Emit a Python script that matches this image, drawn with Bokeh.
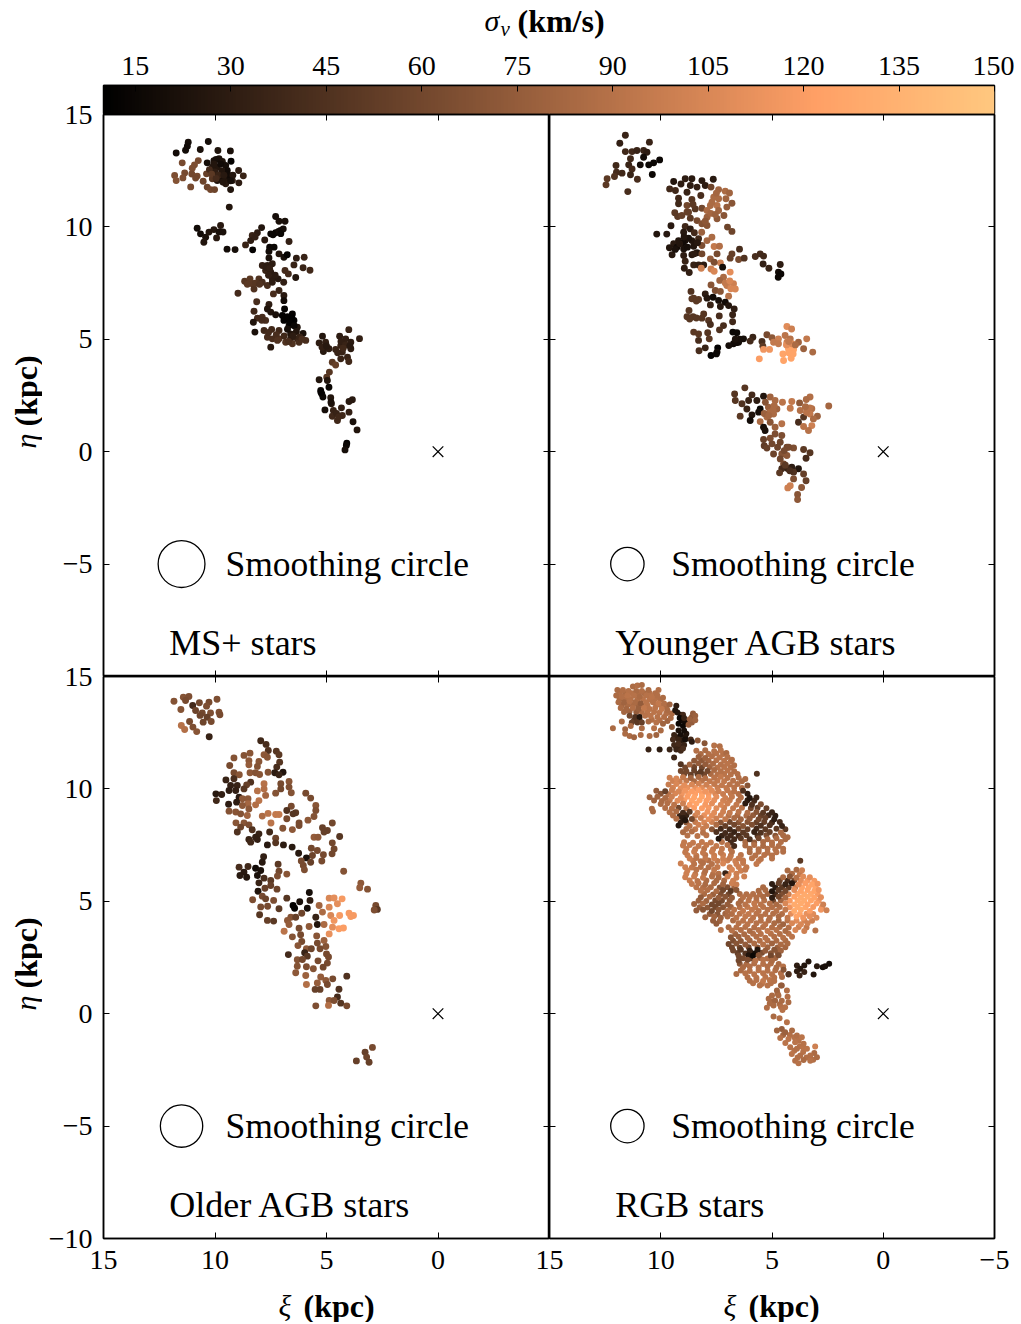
import math
import numpy as np
from bokeh.plotting import figure
from bokeh.layouts import column, row
from bokeh.models import LinearAxis, FixedTicker, LinearColorMapper, Range1d, ColumnDataSource
from bokeh.core.properties import value
from bokeh.embed import file_html
from bokeh.resources import INLINE

SIGMA_LOW, SIGMA_HIGH = 10, 150
cbar_ticks = [15, 30, 45, 60, 75, 90, 105, 120, 135, 150]
xi_ticks = [15, 10, 5, 0, -5]
eta_ticks = [15, 10, 5, 0, -5, -10]
panel_names = ["MS+ stars", "Younger AGB stars", "Older AGB stars", "RGB stars"]
smooth_radius = [1.05, 0.75, 0.95, 0.75]

# (xi kpc, eta kpc, sigma_v km/s)
ms_stars = [(11.2,13.77,20),(11.24,13.59,18),(11.32,13.41,18),(11.74,13.29,18),(10.3,13.8,20),(10.66,13.44,22),(9.87,13.4,24),(9.31,13.38,22),(11.47,12.85,62),(10.75,12.95,62),(10.92,12.76,65),(11.02,12.61,65),(10.35,12.85,20),(10.05,12.95,22),(9.82,13.03,22),(9.67,12.91,24),(9.28,12.92,12),(9.9,12.66,25),(9.52,12.73,20),(10.12,12.66,25),(9.45,12.51,18),(8.94,12.51,30),(8.73,12.27,35),(11.81,12.29,65),(11.74,12.06,68),(11.36,12.4,62),(11.44,12.18,65),(11.04,12.35,60),(10.8,12.26,62),(10.87,12.17,60),(10.38,12.36,55),(10.12,12.14,48),(10.53,12.03,58),(11.09,11.78,62),(10.35,11.77,58),(10.2,11.66,60),(10.02,11.66,58),(9.9,12.06,25),(9.67,12.21,22),(9.45,12.14,25),(9.22,12.06,30),(8.93,11.96,30),(9.52,11.92,28),(9.3,11.66,25),(9.36,10.88,25),
(7.28,10.46,20),(7.13,10.25,22),(6.86,10.25,22),(10.8,9.94,18),(10.65,9.69,18),(10.42,9.54,22),(10.5,9.32,25),(10.27,9.77,25),(10.05,9.88,25),(9.75,10.06,28),(9.82,9.77,22),(9.64,9.77,22),(9.93,9.51,28),(9.46,9.01,18),(9.1,8.99,20),(7.91,9.97,25),(8.1,9.74,30),(8.33,9.62,35),(8.4,9.39,30),(8.63,9.2,35),(7.77,9.42,28),(8.31,8.98,12),(7.5,9.69,15),(7.28,9.74,15),(7.06,9.84,18),(6.94,9.91,20),(6.68,9.35,32),(7.55,9.1,15),(7.35,9.1,15),(7.58,8.91,18),(7.13,8.8,25),(6.91,8.65,20),(6.76,8.76,12),(7.58,8.62,22),(6.35,8.61,30),(6.0,8.65,35),(6.46,8.31,35),(6.05,8.18,35),(5.74,8.07,38),(7.88,8.28,32),(7.65,8.28,30),(7.43,8.36,30),(7.73,8.06,35),(7.5,7.99,30),(6.86,8.06,40),(6.71,7.91,40),(6.38,7.75,25),(7.43,7.69,30),(7.17,7.69,28),(6.92,7.54,32),(8.67,7.58,48),(8.43,7.69,50),(8.33,7.47,50),(8.03,7.69,45),(7.88,7.54,42),(7.65,7.39,42),(7.43,7.54,30),(8.25,7.24,45),(8.97,7.05,40),(7.13,7.17,35),(7.38,7.02,42),(6.91,6.95,28),(6.91,6.72,18),(8.13,6.67,42),(7.58,6.55,30),(7.65,6.35,25),(8.25,6.25,38),(6.88,6.35,12),(7.5,6.21,25),(7.28,6.09,22),(6.98,6.06,12),(6.53,6.13,12),(7.88,5.98,42),(8.1,5.94,40),(7.73,5.84,42),(8.28,5.76,25),(6.91,5.84,12),(6.46,5.84,12),(6.68,5.61,18),(6.31,5.54,25),(8.21,5.32,22),(7.8,5.39,38),(7.46,5.44,38),(7.13,5.39,38),(6.05,5.26,22),(6.61,5.24,25),(7.65,5.09,42),(7.43,5.02,42),(7.13,5.02,45),(6.61,5.02,30),(6.31,5.02,35),(6.83,4.87,45),(6.53,4.8,45),(6.23,4.87,42),(5.93,4.95,42),(7.5,4.65,28),
(5.18,5.14,25),(5.33,4.84,30),(5.04,4.87,32),(5.14,4.46,28),(4.89,4.58,30),(4.41,5.14,30),(4.0,5.43,35),(3.52,5.03,32),(4.14,5.02,32),(3.91,4.87,30),(4.36,4.72,35),(4.59,4.55,35),(3.91,4.58,30),(4.29,4.43,35),(4.06,4.2,35),(4.36,4.13,35),(4.0,4.01,38),(4.74,3.98,50),(4.59,3.86,55),(4.87,3.54,48),(4.99,3.31,48),(5.33,3.2,25),(4.96,3.17,25),(4.89,2.87,15),(5.26,2.72,15),(5.21,2.57,15),(5.16,2.43,15),(4.81,2.4,25),(4.78,2.13,28),(3.84,2.31,28),(3.99,2.23,28),(5.07,1.86,20),(4.69,1.83,35),(4.33,1.95,32),(3.99,1.76,32),(4.74,1.58,38),(4.29,1.61,38),(4.51,1.39,38),(3.81,1.33,22),(3.63,0.97,25),(4.09,0.38,12),(4.11,0.28,15),(4.17,0.08,20),
(9.95,13.0,20),(9.75,12.8,18),(10.0,12.45,30),(9.7,12.5,25),(9.4,12.3,18),(9.2,12.3,25),(9.85,12.3,35),(9.6,12.3,28),(9.3,12.05,20),(9.65,12.0,25),(10.05,12.8,25),(10.25,12.55,40),(10.15,12.35,50),(9.95,12.15,40),(6.75,6.0,12),(6.55,5.95,10),(6.65,5.75,12),(6.45,5.6,15),(6.75,5.45,20),(6.35,5.35,25),(6.5,5.15,30),(6.9,5.15,38),(7.25,5.2,42),(6.2,5.1,35),(6.1,5.0,42),(7.2,4.95,45),(6.7,4.9,42),(7.6,5.3,40),(7.15,9.8,18),(7.4,9.65,15),(8.2,9.55,32),(7.05,9.7,15),(7.7,8.2,30),(7.55,8.15,32),(7.3,7.85,30),(7.6,7.85,32),(8.55,7.45,50),(8.2,7.5,48),(8.0,7.45,45),(7.9,5.85,40),(4.35,4.9,32),(4.15,4.75,35),(3.95,4.7,28),(4.25,4.6,38),(4.5,4.4,35),(5.2,4.65,32),(5.0,4.7,28),(5.25,2.65,12),(4.8,2.2,22),(4.55,1.7,35),(4.45,1.55,38)]

young_stars = [(11.59,14.08,35),(11.84,13.72,32),(10.51,13.77,35),(11.59,13.35,38),(11.29,13.35,38),(11.07,13.4,35),(10.77,13.4,35),(10.62,13.32,30),(11.36,13.03,38),(10.77,13.1,18),(12.01,12.73,38),(11.44,12.76,35),(10.92,12.76,18),(10.54,12.76,15),(10.32,12.85,15),(10.05,12.98,15),(11.29,12.58,40),(11.99,12.43,40),(11.74,12.39,38),(11.36,12.32,35),(10.38,12.33,15),(12.41,12.14,50),(12.08,12.24,45),(12.46,11.87,50),(11.05,12.12,42),(11.48,11.57,42),
(9.42,12.02,25),(8.9,12.14,30),(8.6,12.14,28),(8.15,12.06,28),(7.64,12.12,28),(9.09,11.91,30),(8.67,11.84,30),(8.37,11.77,32),(8.0,11.84,30),(7.74,11.77,58),(7.4,11.66,80),(7.1,11.59,85),(6.91,11.51,80),(9.6,11.69,38),(9.34,11.62,38),(8.82,11.54,35),(7.62,11.32,85),(7.4,11.25,85),(7.07,11.25,80),(9.2,11.28,38),(8.6,11.22,48),(6.8,11.05,70),(9.2,11.03,38),(8.82,10.95,60),(7.77,10.95,85),(7.47,10.95,90),(7.03,10.88,75),(8.45,10.8,48),(8.15,10.83,60),(7.92,10.73,85),(9.37,10.63,50),(8.82,10.66,58),(7.4,10.73,80),(9.24,10.46,50),(9.05,10.51,55),(8.67,10.39,50),(8.37,10.28,62),(7.92,10.43,78),(7.47,10.36,72),(7.16,10.51,70),(8.15,10.14,68),(7.92,10.06,70),(9.54,10.05,28),(8.9,10.02,38),(8.67,9.91,30),(7.0,9.99,58),(6.8,9.8,58),(8.16,9.76,78),(10.18,9.68,25),(9.73,9.68,28),(8.97,9.76,28),(8.49,9.74,40),(7.7,9.54,85),(7.92,9.39,82),(9.2,9.39,25),(8.9,9.39,22),(8.6,9.39,25),(8.3,9.47,38),(9.42,9.25,28),(8.15,9.17,65),(7.6,9.13,95),(7.36,9.14,88),(9.61,9.07,25),(9.27,9.1,18),(8.97,9.02,22),(8.52,9.14,25),(6.46,9.01,42),(9.49,8.76,28),(8.97,8.73,30),(8.6,8.76,28),(8.37,8.85,25),(8.15,8.8,60),(7.47,8.8,62),(6.8,8.8,55),(5.75,8.68,42),(5.53,8.8,40),(5.38,8.7,38),(7.77,8.58,75),(6.88,8.61,55),(6.5,8.55,62),(6.25,8.61,45),(8.9,8.47,35),(7.32,8.4,100),(7.6,8.43,65),(8.52,8.31,35),(8.3,8.31,32),(8.07,8.31,30),(5.4,8.35,32),(4.63,8.33,30),(5.14,8.16,35),(8.94,8.16,30),(8.18,8.16,100),(7.74,8.13,100),(7.6,8.03,105),(7.22,8.21,20),(6.88,7.99,110),(8.72,7.97,32),(4.71,7.99,18),(4.6,7.91,15),(4.72,7.76,15),(7.18,7.76,85),(6.73,7.47,100),(7.35,7.62,80),(7.74,7.42,70),(7.03,7.39,95),(6.65,7.24,105),(7.55,7.17,65),(7.32,7.13,70),(8.64,7.13,45),(8.0,7.02,30),(6.95,6.92,90),(8.52,6.83,50),(8.3,6.77,50),(7.92,6.83,25),(7.65,6.87,18),(7.4,6.73,20),(7.1,6.65,18),(7.77,6.53,35),(7.32,6.46,28),(6.95,6.5,25),(6.7,6.35,30),(8.73,6.28,48),(6.77,6.09,35),(8.82,6.0,48),(8.55,6.0,48),(8.07,6.13,48),(8.15,5.94,48),(7.37,6.04,42),(7.85,5.84,48),(7.77,5.66,42),(6.77,5.78,38),(7.18,5.61,42),(7.36,5.42,45),(8.52,5.32,50),(8.3,5.24,50),(7.89,5.29,48),(6.76,5.32,15),(6.58,5.29,15),(8.3,4.95,42),(7.82,5.02,50),(6.28,5.02,20),(5.86,5.09,35),(6.5,4.87,20),(6.73,4.8,18),(5.98,4.92,40),(5.45,4.9,42),(7.44,4.62,12),(6.94,4.72,20),(8.0,4.62,35),(8.28,4.49,42),(7.74,4.28,12),(7.47,4.43,18),(5.41,4.69,50),(4.33,5.57,108),(4.12,5.46,100),(5.23,5.2,62),(5.0,5.07,72),(4.41,5.17,92),(4.71,5.02,100),(4.18,5.02,90),(3.44,5.02,95),(3.81,4.87,80),(4.93,4.87,95),(4.71,4.8,95),(4.33,4.87,100),(3.58,4.58,78),(4.26,4.58,125),(4.03,4.55,125),(5.38,4.55,115),(5.11,4.55,115),(3.17,4.43,85),(4.51,4.35,125),(5.57,4.13,120),(4.14,4.16,125),(4.48,4.06,125),
(6.22,2.84,48),(6.68,2.57,48),(6.65,2.28,48),(5.9,2.53,40),(5.38,2.47,25),(5.08,2.43,80),(3.29,2.43,88),(3.46,2.32,85),(6.05,2.28,35),(5.68,2.28,30),(4.86,2.28,85),(4.53,2.2,92),(4.11,2.23,95),(3.76,2.17,72),(2.45,2.03,82),(6.35,2.13,45),(6.13,1.9,35),(5.53,1.9,15),(5.16,1.98,78),(4.78,1.9,80),(4.18,1.93,95),(3.73,1.83,88),(3.21,1.91,88),(5.6,1.76,20),(4.93,1.68,85),(3.29,1.68,95),(6.43,1.58,50),(5.9,1.64,25),(5.23,1.54,85),(3.58,1.54,48),(2.96,1.58,78),(3.14,1.46,85),(5.98,1.39,18),(5.53,1.34,85),(5.08,1.31,70),(4.56,1.24,90),(3.81,1.31,42),(3.58,1.12,92),(3.21,1.16,100),(3.36,0.94,90),(5.38,1.09,20),(5.31,0.94,22),(4.86,1.09,78),(4.86,0.79,65),(4.56,0.72,65),(5.08,0.6,65),(5.38,0.54,55),(4.63,0.42,58),(5.0,0.35,60),(5.35,0.27,52),(4.33,0.2,60),(4.03,0.17,65),(5.23,0.16,55),(3.58,0.1,50),(3.29,-0.05,48),(4.93,-0.1,58),(4.56,-0.1,68),(4.33,-0.17,72),(3.47,-0.29,40),(4.63,-0.32,60),(4.48,-0.54,62),(4.56,-0.76,40),(4.11,-0.69,30),(3.81,-0.76,25),(4.66,-0.94,50),(4.03,-0.91,45),(3.58,-0.99,55),(4.03,-1.21,65),(3.47,-1.29,55),(4.18,-1.51,100),(4.29,-1.61,100),(3.67,-1.59,72),(3.85,-1.9,70),(3.85,-2.13,72),
(8.75,9.5,22),(9.0,9.3,18),(8.8,9.1,20),(8.35,9.3,28),(8.5,8.8,30),(9.15,9.25,25),(9.35,9.0,22),(8.95,9.55,25),(7.7,11.1,85),(7.5,11.5,82),(7.75,10.6,82),(7.55,10.55,78),(8.0,10.25,72),(8.75,10.65,55),(8.55,11.0,50),(8.2,11.4,42),(7.0,7.5,100),(6.85,7.25,105),(7.1,7.5,95),(6.9,7.6,105),(5.1,1.75,85),(5.35,1.7,78),(5.3,2.2,70),(4.9,2.05,85),(4.95,1.85,85),(5.15,1.6,82),(3.45,1.75,92),(3.3,1.95,92),(3.5,2.0,85),(4.3,-0.75,35),(4.2,-0.85,42),(4.4,-0.6,50),(4.25,0.2,62),(4.45,0.05,62),(4.75,0.2,58),(4.35,4.75,110),(4.1,4.8,105),(4.25,4.9,95),(3.95,4.75,85),(4.25,4.4,125),(4.05,4.35,125),(8.4,5.95,48),(8.7,5.9,48),(8.6,6.8,50),(8.4,6.7,50),(6.6,4.85,18),(6.45,5.0,20),(6.65,5.0,22),(7.5,4.35,15)]

old_stars = [(11.84,13.9,68),(11.42,14.08,68),(11.17,14.11,65),(11.32,13.93,62),(9.91,13.99,65),(10.7,13.83,60),(11.0,13.71,40),(10.27,13.86,62),(10.38,13.68,65),(11.53,13.53,68),(10.87,13.49,58),(10.57,13.38,60),(10.2,13.38,65),(9.82,13.41,65),(10.67,13.27,58),(9.78,13.3,62),(10.35,13.19,55),(10.17,13.0,62),(10.53,12.97,58),(11.14,13.0,62),(11.51,12.82,90),(11.36,12.64,88),(10.99,12.75,65),(10.82,12.55,70),(10.26,12.32,35),
(7.95,12.14,38),(7.71,11.98,42),(7.61,11.71,45),(7.25,11.68,48),(7.13,11.52,50),(9.15,11.38,68),(8.7,11.49,68),(8.43,11.59,70),(7.8,11.52,72),(7.65,11.41,70),(8.48,11.26,72),(8.03,11.22,70),(8.48,11.07,75),(7.1,11.19,48),(9.34,11.04,62),(8.1,11.0,68),(7.23,10.97,42),(8.43,10.72,72),(8.18,10.72,68),(8.0,10.64,70),(9.15,10.72,62),(8.91,10.63,70),(7.62,10.74,68),(7.32,10.72,30),(6.95,10.74,25),(7.13,10.63,35),(9.51,10.4,35),(9.15,10.45,42),(8.4,10.3,45),(8.58,10.18,55),(6.68,10.33,70),(7.05,10.23,62),(7.8,10.23,90),(7.8,10.0,88),(9.3,10.15,32),(9.0,10.15,35),(8.7,10.0,48),(9.37,9.93,30),(9.07,9.93,32),(6.68,10.08,65),(7.05,10.0,60),(8.1,9.91,90),(6.58,9.83,68),(7.28,9.81,68),(7.73,9.71,82),(5.93,9.81,62),(9.96,9.78,28),(9.7,9.75,32),(8.92,9.63,28),(5.71,9.59,62),(9.94,9.48,38),(8.77,9.56,72),(8.52,9.56,72),(8.03,9.48,92),(9.03,9.41,30),(9.39,9.32,30),(8.52,9.34,82),(8.18,9.29,88),(8.77,9.26,72),(6.58,9.23,62),(5.48,9.26,70),(8.48,9.11,72),(9.37,9.01,68),(9.07,8.97,70),(6.78,9.04,45),(6.38,8.94,50),(6.5,8.89,48),(5.48,9.04,65),(8.85,8.89,68),(7.88,8.79,85),(7.62,8.91,92),(7.28,8.86,95),(7.13,8.86,95),(8.55,8.82,80),(5.56,8.77,68),(6.78,8.67,62),(5.83,8.61,72),(9.06,8.49,70),(8.7,8.49,70),(8.48,8.4,65),(7.49,8.48,92),(6.23,8.49,62),(4.74,8.48,60),(8.85,8.3,58),(6.23,8.37,62),(8.33,8.18,45),(5.18,8.27,55),(6.96,8.25,68),(6.53,8.19,72),(4.96,8.15,55),(9.0,8.08,45),(8.03,8.0,35),(7.55,8.08,38),(5.11,8.08,55),(8.18,7.85,32),(8.48,7.75,35),(7.28,7.81,58),(5.56,7.85,75),(5.38,7.85,72),(4.41,7.88,48),(8.4,7.63,38),(7.28,7.6,48),(8.1,7.75,32),(7.65,7.51,28),(6.93,7.51,30),(6.54,7.41,28),(4.74,7.6,60),(5.68,7.36,60),(4.66,7.33,60),(5.41,7.26,62),(4.75,7.11,60),(6.25,7.14,28),(5.14,7.07,62),(5.63,7.04,58),(7.82,6.98,32),(5.9,6.93,22),(6.13,6.79,62),(5.71,6.74,55),(5.21,6.79,62),(7.88,6.74,28),(7.17,6.65,50),(6.04,6.59,62),(8.92,6.52,42),(8.52,6.55,38),(8.18,6.47,18),(7.95,6.37,22),(5.99,6.4,65),(8.7,6.3,28),(7.13,6.34,60),(4.23,6.34,68),(8.88,6.15,28),(8.58,6.07,25),(8.1,6.15,22),(6.78,6.21,70),(7.2,6.12,65),(7.8,6.03,42),(7.5,5.93,50),(8.03,5.82,35),(3.46,5.81,72),(3.51,5.6,75),(3.16,5.54,68),(7.5,5.7,55),(7.76,5.58,55),(7.22,5.54,58),(8.07,5.45,25),(5.77,5.39,20),(7.88,5.23,62),(8.31,5.07,65),(7.73,5.11,58),(7.37,5.04,65),(6.78,5.14,48),(6.2,4.98,22),(5.74,5.04,30),(4.88,5.14,105),(4.66,5.15,110),(4.3,5.11,118),(4.51,4.89,110),(2.79,4.81,62),(2.72,4.64,50),(2.86,4.61,65),(6.5,4.81,12),(6.43,4.69,12),(7.95,4.75,62),(7.64,4.78,62),(7.13,4.67,50),(5.86,4.69,20),(5.33,4.81,80),(4.88,4.74,105),(3.99,4.47,118),(3.79,4.37,118),(3.91,4.32,118),(6.11,4.47,58),(5.18,4.52,85),(4.81,4.37,105),(4.41,4.37,118),(8.0,4.4,48),(6.6,4.29,68),(6.38,4.29,55),(5.48,4.29,35),(7.65,4.15,55),(7.37,4.12,50),(6.75,4.15,72),(4.66,4.15,115),(5.41,3.97,25),(5.11,3.97,85),(6.68,3.97,75),(5.78,3.88,72),(4.73,3.85,110),(4.44,3.78,120),(4.24,3.81,120),(6.9,3.67,92),(6.23,3.8,62),(4.88,3.55,112),(6.16,3.51,62),(6.53,3.42,68),(5.44,3.46,70),(5.11,3.26,78),(6.11,3.21,62),(6.28,3.03,70),(5.41,3.14,62),(5.03,2.99,68),(5.29,2.89,62),(5.9,2.89,72),(5.68,2.89,58),(5.98,2.71,35),(6.71,2.63,40),(5.0,2.66,62),(5.86,2.56,48),(4.91,2.52,62),(6.31,2.4,68),(6.08,2.41,60),(5.38,2.35,62),(4.96,2.25,62),(6.31,2.11,68),(5.9,2.09,65),(5.59,2.0,68),(5.15,2.07,60),(6.38,1.82,72),(5.93,1.7,78),(4.09,1.67,45),(5.26,1.63,75),(5.03,1.48,72),(4.72,1.55,62),(5.41,1.37,75),(5.9,1.3,88),(4.96,1.3,62),(5.51,1.08,55),(5.29,1.08,55),(4.44,1.09,45),(4.51,0.74,40),(4.88,0.59,72),(4.66,0.59,65),(4.36,0.47,48),(5.48,0.35,65),(4.91,0.37,88),(4.09,0.35,62),(2.94,-1.5,62),(3.27,-1.71,55),(3.2,-1.93,58),(3.66,-2.1,55),(3.09,-2.16,55)]

rgb_fill = [(11.85,14.25,88),(11.6,14.25,85),(11.3,14.25,90),(11.0,14.22,88),(10.75,14.25,85),(10.5,14.25,90),(10.25,14.25,88),(11.85,14.0,85),(11.6,14.0,88),(11.35,14.0,90),(11.05,13.98,88),(10.8,14.0,92),(10.5,13.98,92),(10.25,14.0,90),(10.0,13.98,88),(11.75,13.72,82),(11.5,13.72,85),(11.25,13.72,85),(11.0,13.7,80),(10.85,13.72,88),(10.6,13.72,92),(10.2,13.72,92),(9.95,13.7,90),(9.75,13.65,85),(11.65,13.42,82),(11.4,13.45,80),(11.1,13.42,75),(10.85,13.42,88),(10.6,13.42,92),(10.3,13.42,92),(10.05,13.4,92),(9.75,13.35,88),(9.5,13.35,85),(9.35,13.5,25),(9.1,13.3,22),(9.05,13.05,18),(8.6,13.2,72),(11.2,13.05,50),(10.95,13.05,40),(10.4,13.08,88),(10.05,13.05,88),(9.7,13.02,80),(8.9,12.98,18),(8.6,12.95,75),(9.2,12.6,22),(8.85,12.45,25),(9.25,12.3,30),(9.05,12.15,28),(9.3,11.85,40),(9.1,11.9,35),
(8.2,11.55,85),(7.85,11.55,88),(7.5,11.58,90),(7.2,11.55,90),(8.5,11.25,72),(8.15,11.27,72),(7.85,11.25,82),(7.5,11.27,90),(7.15,11.25,92),(6.85,11.22,90),(8.9,10.95,60),(8.5,10.97,60),(8.15,10.95,60),(7.8,10.97,80),(7.45,10.95,90),(7.15,10.97,92),(6.85,10.95,90),(8.95,10.65,60),(8.65,10.63,55),(8.35,10.66,50),(8.05,10.64,60),(7.75,10.66,85),(7.45,10.64,90),(7.15,10.66,92),(6.85,10.64,90),(6.55,10.66,88),
(9.45,10.35,100),(9.15,10.33,100),(8.85,10.36,95),(8.5,10.34,85),(8.15,10.36,92),(7.8,10.34,95),(7.45,10.36,95),(7.15,10.34,95),(6.75,10.36,90),(6.35,10.34,85),(9.45,10.05,102),(9.1,10.03,110),(8.8,10.06,112),(8.45,10.04,112),(8.15,10.06,108),(7.8,10.04,108),(7.45,10.06,98),(7.05,10.04,95),(6.7,10.06,92),(6.35,10.04,88),(10.0,9.78,70),(9.65,9.76,90),(9.35,9.79,105),(9.05,9.77,115),(8.75,9.79,122),(8.45,9.77,122),(8.15,9.79,120),(7.85,9.77,118),(7.55,9.79,105),(7.2,9.77,98),(6.85,9.79,95),(6.5,9.77,88),(6.1,9.78,30),(10.3,9.48,80),(9.95,9.46,85),(9.6,9.49,95),(9.25,9.47,108),(8.95,9.49,118),(8.6,9.47,125),(8.25,9.49,125),(7.95,9.47,120),(7.6,9.49,112),(7.2,9.47,102),(6.9,9.49,98),(6.5,9.47,90),(6.1,9.49,30),(5.8,9.47,40),
(9.8,9.15,88),(9.5,9.13,90),(9.2,9.16,60),(8.85,9.14,90),(8.5,9.16,120),(8.15,9.14,120),(7.85,9.16,118),(7.5,9.14,108),(7.15,9.16,100),(6.75,9.14,95),(6.35,9.16,90),(5.95,9.14,60),(5.65,9.16,55),(5.25,9.14,55),(9.45,8.82,88),(9.15,8.8,35),(8.85,8.83,35),(8.45,8.81,100),(8.05,8.83,112),(7.7,8.81,108),(7.3,8.83,100),(6.95,8.81,90),(6.55,8.83,85),(6.15,8.81,85),(5.85,8.83,75),(5.5,8.81,55),(5.15,8.83,40),(4.85,8.81,30),(9.1,8.52,30),(8.85,8.5,70),(8.45,8.53,95),(8.05,8.51,105),(7.7,8.53,100),(7.3,8.51,70),(6.9,8.53,60),(6.5,8.51,70),(6.1,8.53,70),(5.7,8.51,55),(5.35,8.53,55),(5.0,8.51,40),(4.65,8.53,40),(8.85,8.22,88),(8.45,8.2,95),(8.1,8.23,98),(7.7,8.21,70),(7.3,8.23,40),(6.9,8.21,40),(6.5,8.23,60),(6.1,8.21,55),(5.7,8.23,40),(5.3,8.21,50),(4.8,8.23,50),(4.4,8.21,50),(8.8,7.93,90),(8.35,7.91,92),(7.95,7.94,92),(7.25,7.92,35),(6.85,7.94,40),(6.5,7.92,40),(6.15,7.94,50),(5.65,7.92,45),(5.25,7.94,65),(4.85,7.92,70),(4.5,7.94,85),
(8.95,7.63,95),(8.55,7.61,95),(8.15,7.64,95),(7.75,7.62,95),(7.25,7.64,90),(6.85,7.62,40),(6.2,7.64,85),(5.8,7.62,75),(5.4,7.64,85),(5.0,7.62,88),(4.6,7.64,88),(8.85,7.33,95),(8.45,7.31,95),(8.05,7.34,92),(7.65,7.32,95),(7.25,7.34,95),(6.85,7.32,90),(6.0,7.34,85),(5.6,7.32,88),(5.2,7.34,88),(4.85,7.32,90),(4.5,7.34,88),(8.8,7.05,98),(8.4,7.03,95),(8.0,7.06,92),(7.6,7.04,98),(7.2,7.06,100),(6.85,7.04,95),(6.4,7.06,92),(5.75,7.04,90),(5.35,7.06,92),(5.0,7.04,90),(8.55,6.8,95),(8.2,6.78,90),(7.85,6.81,88),(7.45,6.79,95),(7.0,6.81,100),(6.65,6.79,100),(6.3,6.81,95),(5.6,6.79,95),(8.9,6.52,100),(8.6,6.5,95),(8.2,6.53,90),(7.85,6.51,88),(7.45,6.53,95),(6.9,6.51,100),(6.5,6.53,100),(6.15,6.51,95),(8.85,6.22,100),(8.45,6.2,95),(8.05,6.23,90),(7.65,6.21,90),(7.4,6.23,90),(6.95,6.21,100),(6.6,6.23,100),(4.1,6.22,85),(3.75,6.2,95),(8.7,5.92,98),(8.35,5.9,92),(7.95,5.93,85),(7.5,5.91,85),(7.15,5.93,85),(6.75,5.91,100),(4.65,5.93,60),(4.3,5.91,40),(4.0,5.93,60),(3.7,5.91,110),(3.4,5.93,118),(3.1,5.91,118),
(8.4,5.62,92),(8.1,5.6,88),(7.75,5.63,85),(7.35,5.61,70),(7.0,5.63,65),(6.7,5.61,80),(5.4,5.63,85),(4.85,5.61,30),(4.55,5.63,50),(4.25,5.61,50),(3.95,5.63,100),(3.65,5.61,125),(3.35,5.63,125),(3.05,5.61,125),(8.05,5.32,85),(7.65,5.3,78),(7.3,5.33,65),(6.95,5.31,60),(6.45,5.33,85),(6.15,5.31,88),(5.85,5.33,88),(5.55,5.31,88),(5.2,5.33,80),(4.85,5.31,40),(4.55,5.33,65),(4.25,5.31,100),(3.85,5.33,128),(3.55,5.31,130),(3.25,5.33,128),(2.95,5.31,118),(8.3,5.03,78),(7.95,5.01,80),(7.55,5.04,62),(7.25,5.02,62),(6.9,5.04,72),(6.4,5.02,85),(6.05,5.04,92),(5.7,5.02,92),(5.35,5.04,90),(4.95,5.02,60),(4.6,5.04,80),(4.2,5.02,118),(3.85,5.04,130),(3.55,5.02,130),(3.25,5.04,125),(2.9,5.02,115),(8.25,4.74,78),(7.9,4.72,72),(7.55,4.75,60),(7.2,4.73,70),(6.85,4.75,80),(6.45,4.73,90),(6.1,4.75,95),(5.75,4.73,95),(5.4,4.75,92),(5.0,4.73,88),(4.65,4.75,88),(4.2,4.73,115),(3.85,4.75,130),(3.5,4.73,128),(3.15,4.75,118),(2.75,4.73,108),
(7.8,4.44,75),(7.45,4.42,70),(7.1,4.45,80),(6.8,4.43,88),(6.45,4.45,92),(6.05,4.43,95),(5.7,4.45,92),(5.3,4.43,90),(4.95,4.45,88),(4.55,4.43,88),(4.15,4.45,110),(3.75,4.43,125),(3.45,4.45,112),(3.15,4.43,108),(7.65,4.14,75),(7.35,4.12,80),(6.75,4.15,85),(6.3,4.13,92),(5.95,4.15,92),(5.5,4.13,90),(5.15,4.15,88),(4.7,4.13,82),(4.3,4.15,90),(3.9,4.13,108),(3.55,4.15,102),(3.2,4.13,100),(6.95,3.85,85),(6.6,3.83,90),(6.2,3.86,90),(5.8,3.84,88),(5.4,3.86,90),(5.0,3.84,88),(4.65,3.86,85),(4.25,3.84,88),(3.8,3.86,100),(3.45,3.84,95),(6.65,3.55,80),(6.25,3.53,85),(5.85,3.56,88),(5.5,3.54,90),(5.05,3.56,90),(4.65,3.54,88),(4.25,3.56,90),(6.75,3.25,65),(6.4,3.23,72),(6.0,3.26,80),(5.55,3.24,88),(5.2,3.26,88),(4.8,3.24,85),(4.4,3.26,85),(6.8,2.95,60),(6.45,2.93,58),(6.05,2.96,60),(5.65,2.94,70),(5.2,2.96,80),(4.75,2.94,78),(4.4,2.96,82),(6.55,2.7,55),(6.2,2.68,45),(5.95,2.71,25),(5.75,2.69,20),(5.45,2.71,65),(5.05,2.69,70),(4.75,2.71,72),(6.3,2.47,62),(5.95,2.45,60),(5.55,2.48,80),(5.2,2.46,88),(4.85,2.48,80),(6.45,2.22,70),(6.15,2.2,85),(5.8,2.23,88),(5.4,2.21,90),(5.05,2.23,88),(4.7,2.21,85),(6.4,1.92,85),(6.0,1.9,90),(5.6,1.93,92),(5.2,1.91,90),(4.85,1.93,88),(6.1,1.62,88),(5.7,1.6,92),(5.3,1.63,92),(4.9,1.61,90),(4.55,1.63,85),(5.85,1.35,90),(5.45,1.33,92),(5.05,1.36,90),(4.75,0.9,85),(4.95,0.55,82),(4.65,0.42,85),(4.3,0.75,88),(5.1,0.45,85),(4.6,0.3,88),(4.5,-0.95,82),(4.2,-0.95,88),(3.8,-1.2,90),(4.0,-1.05,90),(4.4,-1.3,92),(3.75,-1.45,90),(4.0,-1.65,90),(3.6,-1.7,90),(3.85,-1.95,88),(3.45,-1.95,88),(3.1,-1.75,85),(3.15,-2.05,88),(3.6,-1.5,92)]

rgb_main = [(11.25,14.56,85),(11.05,14.6,88),(10.85,14.62,85),(11.95,14.4,85),(11.7,14.4,88),(11.45,14.35,90),(11.1,14.35,85),(10.85,14.35,88),(10.55,14.4,85),(10.1,14.4,88),(12.0,14.15,85),(11.75,14.1,88),(11.5,14.15,92),(11.2,14.15,90),(10.95,14.1,85),(10.65,14.15,90),(10.4,14.1,92),(10.15,14.15,88),(9.9,14.05,85),(11.9,13.85,85),(11.65,13.85,80),(11.4,13.9,90),(11.15,13.85,85),(10.9,13.8,75),(10.65,13.85,92),(10.35,13.85,90),(10.1,13.8,95),(9.85,13.8,88),(9.6,13.75,80),(9.3,13.7,30),(11.8,13.6,85),(11.55,13.55,82),(11.25,13.6,88),(11.0,13.55,78),(10.75,13.6,95),(10.5,13.55,92),(10.25,13.6,92),(9.95,13.55,95),(9.7,13.5,85),(9.25,13.4,25),(9.0,13.3,40),(8.55,13.35,75),(8.45,13.25,78),(11.4,13.25,60),(11.15,13.2,45),(10.95,13.2,25),(10.7,13.25,90),(10.45,13.25,92),(10.15,13.2,90),(9.85,13.2,88),(9.55,13.15,85),(9.15,13.15,15),(8.95,13.15,35),(8.7,13.1,78),(8.45,13.05,80),(11.75,13.0,85),(11.3,12.95,55),(11.05,12.95,50),(10.85,12.95,55),(10.55,13.0,85),(10.2,12.95,90),(9.9,12.9,80),(9.2,12.9,15),(9.0,12.8,15),(8.75,12.85,75),(12.15,12.7,85),(11.6,12.65,80),(11.35,12.8,85),(10.85,12.7,85),(10.3,12.7,90),(10.0,12.6,85),(9.5,12.75,70),(8.95,12.6,20),(11.6,12.45,85),(11.4,12.35,85),(11.2,12.3,80),(10.9,12.4,85),(10.5,12.35,85),(10.2,12.4,80),(9.4,12.4,35),(9.1,12.4,20),(8.9,12.3,25),(9.45,12.2,40),(9.2,12.2,35),(8.9,12.2,20),(8.65,12.2,40),(8.34,12.15,72),(9.4,11.95,38),(9.2,12.0,40),(8.95,11.95,35),(8.6,12.1,30),(8.03,12.03,70),(10.55,11.75,35),(10.05,11.75,30),(9.6,11.75,35),(9.3,11.75,35),(9.1,11.7,38),(9.0,11.8,42),
(7.6,11.93,90),(7.35,11.9,88),(8.4,11.7,88),(8.0,11.72,85),(7.6,11.68,90),(7.3,11.72,92),(7.05,11.6,85),(9.4,11.4,35),(8.3,11.42,78),(8.0,11.38,80),(7.7,11.45,88),(7.35,11.4,92),(7.0,11.42,90),(6.8,11.3,88),(9.1,11.1,45),(8.7,11.08,80),(8.3,11.14,75),(8.0,11.1,75),(7.65,11.12,85),(7.3,11.08,90),(7.0,11.12,92),(6.7,11.05,88),(9.1,10.8,60),(8.85,10.78,60),(8.5,10.82,55),(8.2,10.76,50),(7.9,10.8,60),(7.6,10.84,85),(7.3,10.78,90),(7.0,10.82,92),(6.7,10.78,88),(5.68,10.67,45),
(9.6,10.5,100),(9.3,10.46,105),(9.0,10.52,95),(8.65,10.48,80),(8.3,10.53,85),(8.0,10.47,88),(7.6,10.5,92),(7.3,10.54,95),(7.0,10.48,92),(6.5,10.5,88),(6.2,10.44,85),(9.65,10.2,98),(9.3,10.22,105),(8.95,10.16,110),(8.6,10.2,105),(8.3,10.24,100),(7.95,10.18,100),(7.6,10.22,95),(7.25,10.16,95),(6.9,10.2,92),(6.55,10.22,90),(6.1,10.15,70),(10.2,9.92,75),(9.8,9.9,55),(9.5,9.95,100),(9.2,9.88,105),(8.9,9.92,115),(8.6,9.9,120),(8.3,9.95,120),(8.0,9.88,115),(7.7,9.92,108),(7.4,9.9,100),(7.0,9.94,95),(6.7,9.88,92),(6.3,9.92,45),(10.5,9.63,80),(10.15,9.65,80),(9.8,9.6,85),(9.5,9.65,100),(9.1,9.6,110),(8.8,9.65,120),(8.5,9.62,125),(8.15,9.66,125),(7.85,9.6,120),(7.5,9.65,110),(7.1,9.6,100),(6.8,9.65,95),(6.4,9.62,88),(6.0,9.6,25),(5.7,9.62,35),(10.0,9.33,85),(9.7,9.36,88),(9.4,9.3,92),(9.0,9.35,100),(8.7,9.3,120),(8.4,9.35,125),(8.0,9.3,118),(7.7,9.35,110),(7.3,9.3,105),(7.0,9.35,100),(6.6,9.3,95),(6.2,9.35,30),(5.9,9.3,45),(5.5,9.32,65),(10.4,9.12,85),(10.35,9.0,85),(9.6,8.96,90),(9.3,9.0,85),(9.0,8.94,40),(8.7,8.98,50),(8.35,8.94,105),(7.9,8.98,115),(7.6,8.94,108),(7.2,8.98,100),(6.9,8.94,95),(6.5,8.98,92),(6.1,8.94,88),(5.7,8.97,70),(5.4,8.94,50),(5.0,8.96,35),(9.3,8.67,88),(9.0,8.7,30),(8.9,8.6,25),(8.6,8.66,60),(8.2,8.7,100),(7.85,8.65,110),(7.5,8.68,100),(7.1,8.65,95),(6.7,8.7,85),(6.4,8.65,80),(6.0,8.68,75),(5.6,8.65,60),(5.3,8.7,55),(4.9,8.65,30),(9.2,8.37,25),(8.7,8.35,90),(8.3,8.4,100),(7.95,8.35,98),(7.5,8.4,85),(7.1,8.35,55),(6.7,8.4,60),(6.3,8.35,70),(5.9,8.4,65),(5.5,8.36,45),(5.1,8.38,45),(4.55,8.35,35),(9.0,8.07,85),(8.6,8.1,88),(8.1,8.05,90),(7.5,8.08,45),(7.1,8.04,40),(6.7,8.08,35),(6.3,8.06,50),(5.8,8.08,35),(5.5,8.05,45),(5.1,8.08,55),(4.6,8.06,85),(4.3,7.85,85),(7.4,7.78,25),(7.0,7.8,40),(6.7,7.76,40),(6.4,7.8,50),(6.0,7.76,45),(5.6,7.8,60),(5.2,7.76,85),(4.8,7.8,85),(4.4,7.76,85),
(9.0,7.48,95),(8.7,7.5,95),(8.3,7.46,95),(7.95,7.5,95),(7.5,7.46,95),(7.0,7.5,90),(6.7,7.46,40),(6.2,7.48,85),(5.8,7.5,88),(5.4,7.46,85),(5.0,7.5,88),(4.7,7.46,88),(8.9,7.18,95),(8.5,7.2,98),(8.1,7.16,95),(7.7,7.2,98),(7.3,7.16,95),(6.8,7.2,90),(6.0,7.18,85),(5.6,7.2,88),(5.2,7.16,90),(4.8,7.18,90),(4.5,7.2,88),(8.7,6.9,98),(8.4,6.93,92),(8.0,6.88,95),(7.6,6.92,100),(7.2,6.88,100),(6.9,6.92,95),(6.5,6.9,95),(5.9,6.92,90),(5.5,6.88,92),(5.0,6.9,90),(3.73,6.8,50),(9.1,6.68,100),(8.5,6.66,92),(8.1,6.7,88),(7.7,6.66,90),(7.2,6.68,105),(6.6,6.66,100),(6.3,6.7,95),(5.7,6.66,95),(8.8,6.37,100),(8.4,6.4,92),(8.0,6.35,88),(7.6,6.4,95),(7.1,6.25,35),(6.8,6.4,105),(6.4,6.36,100),(6.2,6.4,95),(4.3,6.37,85),(3.9,6.4,85),(3.65,6.38,100),(8.9,6.07,100),(8.5,6.1,98),(8.1,6.05,95),(7.7,6.1,88),(7.4,6.06,85),(7.0,6.1,100),(6.6,6.05,100),(6.25,6.1,100),(4.5,6.07,85),(4.2,6.1,70),(3.9,6.05,90),(3.6,6.1,108),(3.3,6.07,110),(8.6,5.77,95),(8.3,5.8,92),(8.0,5.75,85),(7.6,5.8,85),(7.2,5.76,80),(6.8,5.8,100),(6.6,5.75,98),(5.0,5.77,30),(4.7,5.8,55),(4.4,5.76,35),(4.1,5.8,25),(3.8,5.76,110),(3.5,5.8,120),(3.2,5.76,125),(2.95,5.78,115),(8.2,5.47,90),(7.9,5.5,88),(7.5,5.45,85),(7.2,5.5,60),(6.85,5.46,50),(6.6,5.5,70),(5.6,5.47,85),(5.3,5.5,85),(5.0,5.45,25),(4.7,5.5,50),(4.4,5.46,60),(4.0,5.5,110),(3.7,5.46,125),(3.4,5.5,125),(3.1,5.46,125),(2.9,5.5,115),(8.2,5.18,75),(7.8,5.2,85),(7.4,5.16,75),(7.1,5.2,70),(6.8,5.16,75),(6.3,5.18,90),(6.0,5.2,90),(5.7,5.16,88),(5.4,5.2,85),(5.0,5.16,30),(4.7,5.2,60),(4.4,5.16,85),(4.0,5.2,125),(3.7,5.16,130),(3.4,5.2,130),(3.1,5.16,125),(2.8,5.18,110),(8.5,4.88,80),(8.1,4.9,85),(7.7,4.86,60),(7.4,4.9,60),(7.0,4.86,75),(6.5,4.9,85),(6.2,4.86,92),(5.8,4.9,95),(5.5,4.86,92),(5.1,4.9,88),(4.8,4.86,85),(4.4,4.9,105),(4.0,4.86,130),(3.7,4.9,130),(3.4,4.86,125),(3.0,4.9,120),(2.7,4.86,100),(8.4,4.59,75),(8.1,4.62,70),(7.7,4.57,60),(7.4,4.62,70),(7.0,4.57,85),(6.7,4.62,92),(6.3,4.57,95),(5.9,4.62,95),(5.6,4.57,92),(5.2,4.62,90),(4.8,4.57,90),(4.4,4.62,95),(4.0,4.57,130),(3.7,4.62,130),(3.3,4.57,120),(2.8,4.62,115),(2.55,4.6,100),
(8.0,4.29,80),(7.6,4.32,80),(7.3,4.27,78),(7.0,4.32,85),(6.6,4.27,92),(6.2,4.32,95),(5.85,4.27,92),(5.5,4.32,90),(5.1,4.27,88),(4.7,4.32,85),(4.3,4.27,95),(3.9,4.32,125),(3.6,4.27,115),(3.3,4.32,110),(3.0,4.27,105),(7.5,4.0,75),(7.3,3.72,90),(6.5,4.02,90),(6.1,3.98,92),(5.7,4.02,90),(5.3,3.98,92),(4.9,4.02,85),(4.5,3.98,80),(4.1,4.02,105),(3.7,3.98,105),(3.4,4.02,100),(6.8,3.7,90),(6.4,3.72,88),(6.0,3.68,85),(5.6,3.72,90),(5.2,3.68,95),(4.8,3.72,90),(4.4,3.68,85),(3.95,3.72,105),(3.55,3.68,100),(3.05,3.7,90),(6.85,3.4,70),(6.5,3.42,78),(6.1,3.38,85),(5.7,3.42,88),(5.3,3.38,90),(4.9,3.42,88),(4.5,3.38,90),(4.1,3.42,92),(6.95,3.1,60),(6.6,3.12,70),(6.2,3.08,75),(5.8,3.12,85),(5.4,3.08,90),(5.0,3.12,80),(4.6,3.08,85),(4.3,3.12,85),(6.75,2.81,60),(6.4,2.84,50),(6.0,2.8,35),(5.65,2.84,25),(5.3,2.8,75),(4.9,2.84,70),(4.6,2.8,80),(6.5,2.58,60),(6.05,2.6,25),(5.85,2.58,15),(5.6,2.6,70),(5.05,2.58,60),(4.7,2.6,65),(6.5,2.37,60),(6.1,2.4,65),(5.75,2.36,90),(5.4,2.4,90),(5.0,2.36,85),(6.3,2.07,85),(6.0,2.1,88),(5.6,2.05,90),(5.2,2.1,88),(4.8,2.05,85),(4.5,2.1,90),(6.6,1.77,85),(6.2,1.8,90),(5.8,1.75,92),(5.4,1.8,92),(5.0,1.75,90),(4.6,1.8,88),(4.25,1.77,55),(6.0,1.47,88),(5.7,1.5,90),(5.4,1.45,95),(5.1,1.5,92),(4.9,1.45,90),(5.55,1.25,90),(5.2,1.25,90),(4.6,1.25,80),
(3.36,2.32,25),(3.55,2.14,25),(3.88,2.14,30),(3.73,2.0,25),(3.88,1.89,30),(3.55,1.85,35),(3.76,1.7,35),(3.13,1.74,25),(2.98,2.11,28),(2.72,2.07,20),(2.61,2.11,22),(2.43,2.22,20),(4.26,1.74,45),(4.48,1.96,70),(4.56,1.25,75),(4.33,1.03,88),(4.78,1.03,80),(5.0,0.81,85),(4.71,0.81,85),(5.15,0.66,85),(4.86,0.58,80),(4.56,0.58,85),(4.26,0.51,85),(4.93,0.36,85),(4.41,0.29,90),(5.23,0.26,88),(4.53,0.17,90),(4.93,-0.13,85),(4.66,-0.2,88),(4.33,-0.38,90),(4.56,-0.68,75),(4.78,-0.75,80),(4.41,-0.82,78),(4.1,-0.75,85),(3.88,-0.97,88),(3.66,-1.05,92),(4.63,-1.08,90),(4.26,-1.13,92),(3.96,-1.27,92),(3.58,-1.34,90),(3.06,-1.46,100),(4.18,-1.49,90),(3.88,-1.56,88),(3.43,-1.56,92),(4.11,-1.79,92),(3.73,-1.86,88),(3.28,-1.86,88),(2.98,-1.94,85),(3.96,-2.09,88),(3.58,-2.06,85),(3.28,-2.09,90),(3.81,-2.2,90)]
rgb_stars = rgb_fill + rgb_main

FONT = "Liberation Serif"
palette = []
for i in range(256):
    t = i / 255
    palette.append("#%02x%02x%02x" % (round(255 * min(1, 1.25 * t)), round(255 * 0.7812 * t), round(255 * 0.4975 * t)))
mapper = LinearColorMapper(palette=palette, low=SIGMA_LOW, high=SIGMA_HIGH)

STRIP, LEFT, RIGHT, OVER = 42, 61, 20, 30
W1, W2, H = 446, 445, 562
TOTAL_W = STRIP + LEFT + W1 + W2 + RIGHT


def minus(v):
    return str(v).replace("-", "\u2212")


def edge_axis(ticks, where, p):
    ax = LinearAxis(ticker=FixedTicker(ticks=ticks), major_label_overrides={t: "" for t in ticks},
                    major_label_text_font_size="1px", major_label_standoff=0,
                    major_tick_in=6, major_tick_out=0, minor_tick_line_color=None, axis_line_color="black",
                    axis_line_width=1.5, major_tick_line_width=1, major_tick_line_color="black")
    p.add_layout(ax, where)


def strip(w, h):
    s = figure(frame_width=w, frame_height=h, x_range=Range1d(0, w), y_range=Range1d(h, 0),
               x_axis_location=None, y_axis_location=None, output_backend="svg", toolbar_location=None,
               min_border_left=0, min_border_right=0, min_border_top=0, min_border_bottom=0,
               outline_line_color=None, background_fill_color=None, border_fill_color=None, frame_align=False)
    s.grid.visible = False
    return s


def word(s, x, y, text, size, style="normal", angle=0):
    s.text([x], [y], text=[text], text_font=value(FONT), text_font_size=size, text_font_style=style,
           text_baseline="alphabetic", text_color="black", angle=angle)


def panel(i, stars, left, bottom):
    p = figure(frame_width=W1 if left else W2, frame_height=H, x_range=Range1d(15, -5), y_range=Range1d(-10, 15),
               output_backend="svg", toolbar_location=None,
               min_border_left=LEFT if left else OVER, min_border_right=0 if left else RIGHT,
               min_border_top=14, min_border_bottom=48 if bottom else 0,
               background_fill_color=None, border_fill_color=None,
               outline_line_color="black", outline_line_width=1.5)
    p.grid.visible = False
    xa, ya = p.xaxis[0], p.yaxis[0]
    xa.ticker = FixedTicker(ticks=xi_ticks)
    ya.ticker = FixedTicker(ticks=eta_ticks)
    for a in (xa, ya):
        a.major_tick_in = 6
        a.major_tick_out = 0
        a.minor_tick_line_color = None
        a.axis_line_width = 1.5
        a.major_tick_line_width = 1
        a.major_label_standoff = 11
        a.major_label_text_font = FONT
        a.major_label_text_font_size = "28px"
        a.major_label_text_color = "black"
    xa.major_label_standoff = 12
    if bottom:
        xa.major_label_overrides = {t: minus(t) for t in xi_ticks}
        if left:
            xa.major_label_overrides[-5] = ""
    else:
        xa.major_label_overrides = {t: "" for t in xi_ticks}
        xa.major_label_text_font_size = "1px"
        xa.major_label_standoff = 0
    if left:
        ya.major_label_overrides = {t: minus(t) for t in eta_ticks}
        if not bottom:
            ya.major_label_overrides[-10] = ""
    else:
        ya.major_label_overrides = {t: "" for t in eta_ticks}
        ya.major_label_text_font_size = "1px"
        ya.major_label_standoff = 0
    edge_axis(xi_ticks, "above", p)
    edge_axis(eta_ticks, "right", p)

    xi, eta, sig = zip(*stars)
    src = ColumnDataSource(dict(xi=xi, eta=eta, sig=sig))
    size = 6.0 if i == 3 else 6.9
    p.scatter("xi", "eta", source=src, size=size, marker="circle", line_color=None,
              fill_color={"field": "sig", "transform": mapper})
    p.scatter([0], [0], marker="x", size=15, line_color="black", line_width=1.2)
    p.circle([11.5], [-5], radius=smooth_radius[i], fill_color=None, line_color="black", line_width=1.3)
    p.text([9.53], [-5], text=["Smoothing circle"], text_font=value(FONT), text_font_size="35.5px",
           text_baseline="middle", text_color="black")
    p.text([12.05], [-8.5], text=[panel_names[i]], text_font=value(FONT), text_font_size="36px",
           text_baseline="middle", text_color="black")
    if not left:
        p.margin = (0, 0, 0, -OVER)
    return p


def eta_strip(h):
    s = strip(STRIP, h)
    word(s, 25, 348, "\u03b7", "30px", "italic", math.pi / 2)
    word(s, 25, 326, "(kpc)", "32px", "bold", math.pi / 2)
    return s


title = strip(TOTAL_W, 40)
word(title, 484, 20, "\u03c3", "30px", "italic")
word(title, 500, 28, "v", "21px", "italic")
word(title, 517, 20, "(km/s)", "32px", "bold")

top = figure(frame_width=W1 + W2, frame_height=29, x_range=Range1d(SIGMA_LOW, SIGMA_HIGH), y_range=Range1d(0, 1),
             x_axis_location="above", output_backend="svg", toolbar_location=None,
             min_border_left=STRIP + LEFT, min_border_right=RIGHT, min_border_top=45, min_border_bottom=0,
             outline_line_color="black", outline_line_width=1.5, border_fill_color=None)
top.grid.visible = False
top.yaxis.visible = False
ax = top.xaxis[0]
ax.ticker = FixedTicker(ticks=cbar_ticks)
ax.major_tick_in = 6
ax.major_tick_out = 0
ax.minor_tick_line_color = None
ax.major_tick_line_color = "black"
ax.axis_line_width = 1.5
ax.major_label_standoff = 11
ax.major_label_text_font = FONT
ax.major_label_text_font_size = "28px"
ax.major_label_text_color = "black"
gradient = np.linspace(SIGMA_LOW, SIGMA_HIGH, 512).reshape(1, -1)
top.image(image=[gradient], x=SIGMA_LOW, y=0, dw=SIGMA_HIGH - SIGMA_LOW, dh=1, color_mapper=mapper)

p1 = panel(0, ms_stars, True, False)
p2 = panel(1, young_stars, False, False)
p3 = panel(2, old_stars, True, True)
p4 = panel(3, rgb_stars, False, True)
r1 = row(eta_strip(H + 14), p1, p2, spacing=0)
r2 = row(eta_strip(H + 14), p3, p4, spacing=0)
r1.margin = (-14, 0, 0, 0)
r2.margin = (-14, 0, 0, 0)

bottom_strip = strip(TOTAL_W, 36)
word(bottom_strip, 278, 19, "\u03be", "30px", "italic")
word(bottom_strip, 303, 19, "(kpc)", "32px", "bold")
word(bottom_strip, 723, 19, "\u03be", "30px", "italic")
word(bottom_strip, 748, 19, "(kpc)", "32px", "bold")

layout = column(title, top, r1, r2, bottom_strip, spacing=0)
open("out.html", "w").write(file_html(layout, INLINE))
